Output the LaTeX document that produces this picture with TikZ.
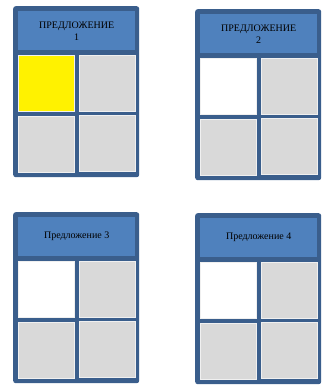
\documentclass[tikz,border=0pt]{standalone}
\usepackage{fontspec}
\setmainfont{Liberation Serif}
\definecolor{frameblue}{HTML}{3A5E8C}
\definecolor{headblue}{HTML}{4F81BD}
\definecolor{cellgray}{HTML}{D9D9D9}
\tikzset{
  frame/.style={fill=frameblue, rounded corners=2.5pt, minimum width=126pt, minimum height=171pt, inner sep=0pt, anchor=north west},
  head/.style={fill=headblue, minimum width=117pt, minimum height=39pt, inner sep=0pt, anchor=north west, align=center, font=\fontsize{10}{12}\selectfont},
  cell/.style={fill=cellgray, draw=white!60!cellgray, line width=0.5pt, minimum size=56pt, inner sep=0pt, anchor=north west}
}
\begin{document}
\begin{tikzpicture}[x=1pt,y=-1pt]
\useasboundingbox (0,0) rectangle (334,389);
\foreach \n/\ox/\oy/\txt/\tl in {1/13/6/{ПРЕДЛОЖЕНИЕ\\1}/yellow,2/195/9/{ПРЕДЛОЖЕНИЕ\\2}/white,3/13/212/{Предложение 3}/white,4/195/213/{Предложение 4}/white}{
  \node[frame] (frame\n) at (\ox,\oy) {};
  \node[head] (head\n) at (\ox+5,\oy+5) {\txt};
  % 2x2 cells
  \node[cell,fill=\tl] (tl\n) at (\ox+5,\oy+49) {};
  \node[cell] (tr\n) at (\ox+66,\oy+49) {};
  \node[cell] (bl\n) at (\ox+5,\oy+110) {};
  \node[cell] (br\n) at (\ox+66,\oy+109) {};
}
\end{tikzpicture}
\end{document}
